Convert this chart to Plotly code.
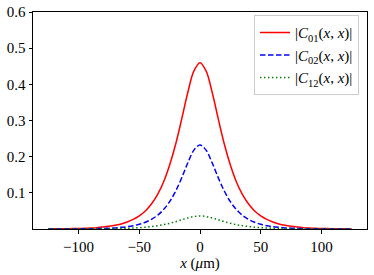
import plotly.graph_objects as go

x_um = [-125, -120, -115, -110, -105, -100, -95, -90, -85, -80, -75, -70, -65, -60, -55, -50,
        -45, -40, -35, -30, -25, -20, -15, -10, -5, 0, 5, 10, 15, 20, 25, 30, 35, 40, 45,
        50, 55, 60, 65, 70, 75, 80, 85, 90, 95, 100, 105, 110, 115, 120, 125]

c01 = [0.0003, 0.0004, 0.00055, 0.00076, 0.00105, 0.00145, 0.0020, 0.0028, 0.0038, 0.0053,
       0.0073, 0.0101, 0.0139, 0.0192, 0.0265, 0.0365, 0.050, 0.069, 0.095, 0.130, 0.177,
       0.235, 0.305, 0.378, 0.437, 0.460, 0.437, 0.378, 0.305, 0.235, 0.177, 0.130, 0.095,
       0.069, 0.050, 0.0365, 0.0265, 0.0192, 0.0139, 0.0101, 0.0073, 0.0053, 0.0038, 0.0028,
       0.0020, 0.00145, 0.00105, 0.00076, 0.00055, 0.0004, 0.0003]

c02 = [0.00006, 0.00009, 0.00013, 0.00018, 0.00026, 0.00037, 0.00052, 0.00075, 0.0011, 0.0015,
       0.0022, 0.0031, 0.0045, 0.0064, 0.0091, 0.0130, 0.0186, 0.0266, 0.0378, 0.0537, 0.0756,
       0.105, 0.142, 0.183, 0.218, 0.232, 0.218, 0.183, 0.142, 0.105, 0.0756, 0.0537, 0.0378,
       0.0266, 0.0186, 0.0130, 0.0091, 0.0064, 0.0045, 0.0031, 0.0022, 0.0015, 0.0011, 0.00075,
       0.00052, 0.00037, 0.00026, 0.00018, 0.00013, 0.00009, 0.00006]

c12 = [0.0001, 0.0001, 0.0001, 0.0001, 0.0002, 0.0002, 0.0003, 0.0004, 0.0005, 0.0007,
       0.0009, 0.0012, 0.0016, 0.0021, 0.0028, 0.0038, 0.0051, 0.0068, 0.0090, 0.0120, 0.0157,
       0.0203, 0.0255, 0.0306, 0.0345, 0.0360, 0.0345, 0.0306, 0.0255, 0.0203, 0.0157, 0.0120,
       0.0090, 0.0068, 0.0051, 0.0038, 0.0028, 0.0021, 0.0016, 0.0012, 0.0009, 0.0007, 0.0005,
       0.0004, 0.0003, 0.0002, 0.0002, 0.0001, 0.0001, 0.0001, 0.0001]

names = ["|<i>C</i><sub>01</sub>(<i>x</i>, <i>x</i>)|",
         "|<i>C</i><sub>02</sub>(<i>x</i>, <i>x</i>)|",
         "|<i>C</i><sub>12</sub>(<i>x</i>, <i>x</i>)|"]

x_tickvals = [-100, -50, 0, 50, 100]
x_ticktext = ["\u2212100", "\u221250", "0", "50", "100"]
y_tickvals = [0.1, 0.2, 0.3, 0.4, 0.5, 0.6]
y_ticktext = ["0.1", "0.2", "0.3", "0.4", "0.5", "0.6"]

FONT = "Liberation Serif"
TICKFONT = dict(family=FONT, size=15, color="black")

fig = go.Figure()
fig.add_trace(go.Scatter(x=x_um, y=c01, mode="lines", name=names[0],
                         line=dict(color="#ff0000", width=1.5, shape="spline")))
fig.add_trace(go.Scatter(x=x_um, y=c02, mode="lines", name=names[1],
                         line=dict(color="#0000ff", width=1.5, dash="5.5px,2.5px", shape="spline")))
fig.add_trace(go.Scatter(x=x_um, y=c12, mode="lines", name=names[2],
                         line=dict(color="#008000", width=1.5, dash="1.5px,2.5px", shape="spline")))

fig.update_layout(
    width=374, height=275,
    margin=dict(l=33, r=7, t=12, b=46, autoexpand=False),
    paper_bgcolor="white", plot_bgcolor="white",
    font=dict(family=FONT, size=15, color="black"),
    showlegend=True,
    legend=dict(x=0.976, y=0.985, xanchor="right", yanchor="top",
                bgcolor="rgba(255,255,255,0.9)", bordercolor="#cccccc", borderwidth=1,
                font=dict(family=FONT, size=15), tracegroupgap=0, itemwidth=30),
)
fig.update_xaxes(range=[-137.5, 137.5], tickvals=x_tickvals, ticktext=x_ticktext,
                 automargin=False, tickfont=TICKFONT,
                 showgrid=False, zeroline=False, showline=True, linecolor="black",
                 linewidth=1, mirror=True, ticks="outside", ticklen=3.5, tickcolor="black",
                 title=dict(text="<i>x</i> (<i>\u03bc</i>m)", standoff=2,
                            font=dict(family=FONT, size=15)))
fig.update_yaxes(range=[0, 0.6], tickvals=y_tickvals, ticktext=y_ticktext,
                 automargin=False, tickfont=TICKFONT,
                 showgrid=False, zeroline=False, showline=True, linecolor="black",
                 linewidth=1, mirror=True, ticks="outside", ticklen=3.5, tickcolor="black")

fig.write_html("out.html", config={"displayModeBar": False},
               post_script="document.body.style.margin='0';document.body.style.padding='0';")
